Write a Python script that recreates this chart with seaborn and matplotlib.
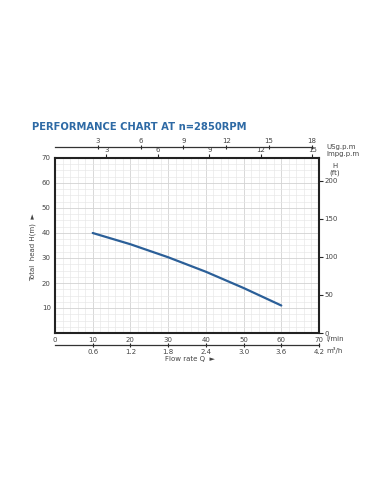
import matplotlib
matplotlib.use('Agg')
import matplotlib.pyplot as plt
import seaborn as sns
from matplotlib.ticker import MultipleLocator, FixedLocator

# pump curve: flow in l/min, head in m
flow = [10, 20, 30, 40, 50, 60]
head = [40, 35.5, 30.3, 24.5, 18, 11]

lmin_ticks = [0, 10, 20, 30, 40, 50, 60, 70]
head_ticks = [10, 20, 30, 40, 50, 60, 70]
ft_ticks = [0, 50, 100, 150, 200]
usg_ticks = [3, 6, 9, 12, 15, 18]
impg_ticks = [3, 6, 9, 12, 15]
m3h_ticks = [0.6, 1.2, 1.8, 2.4, 3.0, 3.6, 4.2]

sns.set_style('white')
plt.rcParams['font.family'] = ['DejaVu Sans']

txt = '#444444'
fs = 5

fig = plt.figure(figsize=(3.9, 4.84), dpi=100)
ax = fig.add_axes([55/390, 151/484, 264/390, 175/484])

sns.lineplot(x=flow, y=head, ax=ax, color='#2b5f98', linewidth=1.6)

ax.set_xlim(0, 70)
ax.set_ylim(0, 70)
ax.xaxis.set_major_locator(FixedLocator(lmin_ticks))
ax.yaxis.set_major_locator(FixedLocator(head_ticks))
ax.xaxis.set_minor_locator(MultipleLocator(2))
ax.yaxis.set_minor_locator(MultipleLocator(2.5))
ax.grid(which='major', color='#d2d2d2', linewidth=0.6)
ax.grid(which='minor', color='#e6e6e6', linewidth=0.45)
ax.set_axisbelow(True)
ax.tick_params(which='major', labelsize=fs, labelcolor=txt, length=2, width=0.6, direction='in', pad=3)
ax.tick_params(which='minor', length=0)
for s in ax.spines.values():
    s.set_color('#222222')
    s.set_linewidth(1.5)
ax.set_xlabel('')
ax.set_ylabel('')

# right axis: head in ft
ft = ax.secondary_yaxis('right', functions=(lambda m: m / 0.3048, lambda f: f * 0.3048))
ft.yaxis.set_major_locator(FixedLocator(ft_ticks))
ft.tick_params(labelsize=fs, labelcolor=txt, length=3, width=0.8, direction='out', pad=1)
ft.spines['right'].set_visible(False)

# top axis on the spine: Imp gpm
imp = ax.secondary_xaxis('top', functions=(lambda q: q / 4.54609, lambda g: g * 4.54609))
imp.xaxis.set_major_locator(FixedLocator(impg_ticks))
imp.tick_params(labelsize=fs, labelcolor=txt, length=3, width=0.8, direction='out', pad=0.5)
imp.spines['top'].set_visible(False)

# upper axis: US gpm
usg = ax.secondary_xaxis(1.062, functions=(lambda q: q / 3.78541, lambda g: g * 3.78541))
usg.xaxis.set_major_locator(FixedLocator(usg_ticks))
usg.tick_params(labelsize=fs, labelcolor=txt, length=3, width=0.8, direction='inout', pad=1)
usg.spines['top'].set_linewidth(0.9)
usg.spines['top'].set_color('#333333')
usg.spines['top'].set_bounds(0, 18)

# lower axis: m3/h
m3 = ax.secondary_xaxis(-0.069, functions=(lambda q: q * 0.06, lambda v: v / 0.06))
m3.xaxis.set_major_locator(FixedLocator(m3h_ticks))
m3.tick_params(labelsize=fs, labelcolor=txt, length=3, width=0.8, direction='inout', pad=1)
m3.spines['bottom'].set_linewidth(0.9)
m3.spines['bottom'].set_color('#333333')

# unit labels
fig.text(326/390, 1 - 147/484, 'USg.p.m', fontsize=fs, color=txt, va='center')
fig.text(326/390, 1 - 154/484, 'Impg.p.m', fontsize=fs, color=txt, va='center')
fig.text(335/390, 1 - 166/484, 'H', fontsize=fs, color=txt, ha='center', va='center')
fig.text(335/390, 1 - 173/484, '(ft)', fontsize=fs, color=txt, ha='center', va='center')
fig.text(326/390, 1 - 339/484, 'l/min', fontsize=fs, color=txt, va='center')
fig.text(326/390, 1 - 351/484, 'm³/h', fontsize=fs, color=txt, va='center')

fig.text(190/390, 1 - 359/484, 'Flow rate Q  \u25ba', fontsize=fs, color=txt, ha='center', va='center')
fig.text(33/390, 1 - 247/484, 'Total  head H(m)  \u25ba', fontsize=fs, color=txt, ha='center', va='center', rotation=90)

fig.text(32/390, 1 - 127/484, 'PERFORMANCE CHART AT n=2850RPM', fontsize=7.2, fontweight='bold',
         color='#2e6aa5', va='center')

fig.savefig('out.png', dpi=100)
